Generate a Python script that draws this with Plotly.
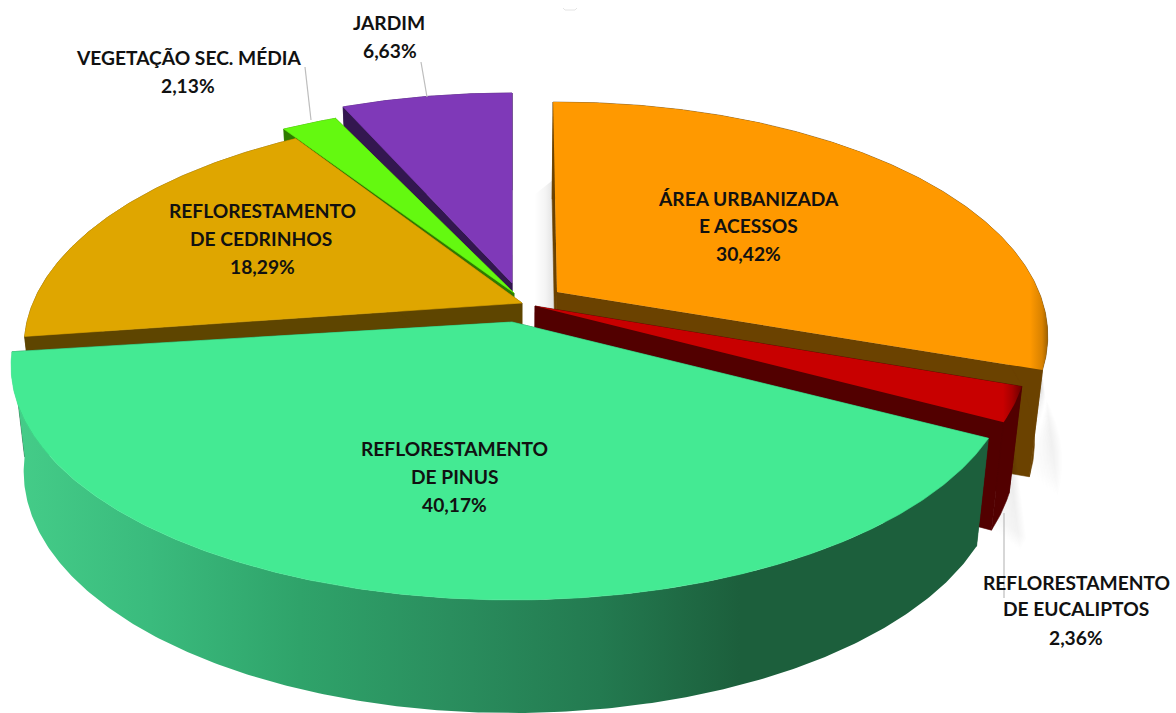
import math
import plotly.graph_objects as go

# Land-use shares, in percent, clockwise from twelve o'clock
categories = ["ÁREA URBANIZADA|E ACESSOS", "REFLORESTAMENTO|DE EUCALIPTOS", "REFLORESTAMENTO|DE PINUS",
              "REFLORESTAMENTO|DE CEDRINHOS", "VEGETAÇÃO SEC. MÉDIA", "JARDIM"]
shares = [30.42, 2.36, 40.17, 18.29, 2.13, 6.63]

# Appearance of each slice
top_colors = ["#FF9900", "#C80000", "#44EA93", "#DFA600", "#64F910", "#7F39B8"]
wall_colors = ["#6B4200", "#520000", "#1C5F3C", "#5E4500", "#2E7A00", "#33174F"]
apex_points = [(557, 292), (535, 306), (512, 322), (522, 303), (514, 293), (512, 283)]
radius_x = [482, 484, 492, 489, 493, 489]
twist_deg = [-0.55, 0, 0, -0.9, -1.2, 0]
paint_order = [5, 4, 3, 0, 1, 2]

# Perspective of the disc
TILT = 0.188
RADIUS_Y = 225.7
DEPTH = 104
VANISH_X = 515
BOTTOM_SCALE = 0.975

# Label lines: text lines are centred on these pixels
label_lines = {
    0: [(748, 198), (748, 225), (748, 253)],
    1: [(1076, 582), (1076, 608), (1076, 637)],
    2: [(454, 448), (454, 476), (454, 504)],
    3: [(262, 210), (261, 238), (262, 266)],
    4: [(188, 57), (188, 85)],
    5: [(389, 22), (390, 50)],
}
leaders = [((1004, 513), (1004, 598)), ((305, 67), (311, 120)), ((421, 62), (427, 97))]


def project(angle, radius, slice_index):
    """Top-face pixel of a disc point, with its perspective divisor."""
    rad = math.radians(angle + twist_deg[slice_index])
    px, py = radius * math.sin(rad), radius * math.cos(rad)
    w = 1 + TILT * py
    ax, ay = apex_points[slice_index]
    return ax + radius_x[slice_index] * px / w, ay - RADIUS_Y * py / w, w


def lower(point):
    """Matching pixel on the underside of the disc."""
    x, y, w = point
    return VANISH_X + (x - VANISH_X) * BOTTOM_SCALE, y + DEPTH * w ** -0.4


def polygon(fig, pts, color=None, gradient=None, name=""):
    xs = [p[0] for p in pts] + [pts[0][0]]
    ys = [p[1] for p in pts] + [pts[0][1]]
    style = dict(mode="lines", fill="toself", x=xs, y=ys, showlegend=False,
                 hoverinfo="skip" if not name else "name", name=name)
    if gradient:
        style["fillgradient"] = gradient
        style["line"] = dict(width=0)
    else:
        style["fillcolor"] = color
        style["line"] = dict(width=0.6 if not color.startswith("rgba") else 0, color=color)
    fig.add_trace(go.Scatter(**style))


def h_gradient(start, stop, stops):
    span = stop - start
    return dict(type="horizontal", start=start, stop=stop,
                colorscale=[[(x - start) / span, c] for x, c in stops])


# Start and end angle of each slice
edges = []
cursor = 0.0
for share in shares:
    edges.append((cursor, cursor + share * 3.6))
    cursor += share * 3.6

fig = go.Figure()

# Soft shadow falling into the gap left of the first slice
polygon(fig, [(534, 195), (553, 180), (557, 312), (534, 312)],
        gradient=h_gradient(534, 556, [(534, "rgba(0,0,0,0)"), (545, "rgba(0,0,0,0.04)"), (556, "rgba(0,0,0,0.13)")]))

for i in paint_order:
    a0, a1 = edges[i]
    n = max(4, int(a1 - a0) * 2)
    arc = [project(a0 + (a1 - a0) * t / n, 1, i) for t in range(n + 1)]
    apex = project(a0, 0, i)

    # Soft shadow behind the outer walls on the right-hand side
    if i in (0, 1):
        start = int(n * 0.7)
        for step in range(1, 21):
            dx, dy = 1.4 * step, 1.0 * step
            rim = [lower(p) for p in arc[start:]]
            shadow = [(x + dx, y + dy) for x, y in rim]
            polygon(fig, [p[:2] for p in arc[start:]][::-1] + shadow, color="rgba(0,0,0,0.006)")

    # Radial walls, then the outer wall, then the top face
    for corner in (arc[0], arc[-1]):
        polygon(fig, [apex[:2], corner[:2], lower(corner), lower(apex)], color=wall_colors[i])
    wall = [p[:2] for p in arc] + [lower(p) for p in reversed(arc)]
    if i == 2:
        polygon(fig, wall, gradient=h_gradient(20, 990, [
            (20, "#44CC88"), (150, "#3ABB7D"), (300, "#2FA36A"), (450, "#2A8E5E"),
            (600, "#237A50"), (740, "#1C5F3C"), (990, "#1C5F3C")]))
    else:
        polygon(fig, wall, color=wall_colors[i])

    face = [apex[:2]] + [p[:2] for p in arc]
    if i == 0:
        polygon(fig, face, name=categories[i].replace("|", " "), gradient=h_gradient(553, 1050, [
            (553, "#FF9900"), (1030, "#FF9900"), (1042, "#D98200"), (1050, "#8A5500")]))
    elif i == 1:
        polygon(fig, face, name=categories[i].replace("|", " "), gradient=h_gradient(535, 1022, [
            (535, "#C80000"), (1003, "#C80000"), (1012, "#A80000"), (1022, "#6A0000")]))
    else:
        polygon(fig, face, color=top_colors[i], name=categories[i].replace("|", " "))

# Leader lines from the outside labels to their slices
for (x0, y0), (x1, y1) in leaders:
    fig.add_trace(go.Scatter(x=[x0, x1], y=[y0, y1], mode="lines", showlegend=False, hoverinfo="skip",
                             line=dict(color="#BDBDBD", width=1.2)))

# Category name lines followed by the share with a decimal comma
annotations = []
for i, cat in enumerate(categories):
    lines = cat.split("|") + [f"{shares[i]:.2f}".replace(".", ",") + "%"]
    for text, (x, y) in zip(lines, label_lines[i]):
        annotations.append(dict(x=x, y=y, text=text, showarrow=False, xanchor="center", yanchor="middle",
                                font=dict(family="Lato", size=19.2, color="#111111", weight="bold")))

fig.update_layout(
    width=1176, height=713, autosize=False,
    margin=dict(l=0, r=0, t=0, b=0),
    paper_bgcolor="white", plot_bgcolor="white",
    xaxis=dict(range=[0, 1176], visible=False, fixedrange=True),
    yaxis=dict(range=[713, 0], visible=False, fixedrange=True),
    annotations=annotations,
    shapes=[dict(type="path", path="M 563 8 L 565 10 L 575 10 L 577 8", line=dict(color="#E4E4E4", width=1))],
)

fig.write_html("out.html")
